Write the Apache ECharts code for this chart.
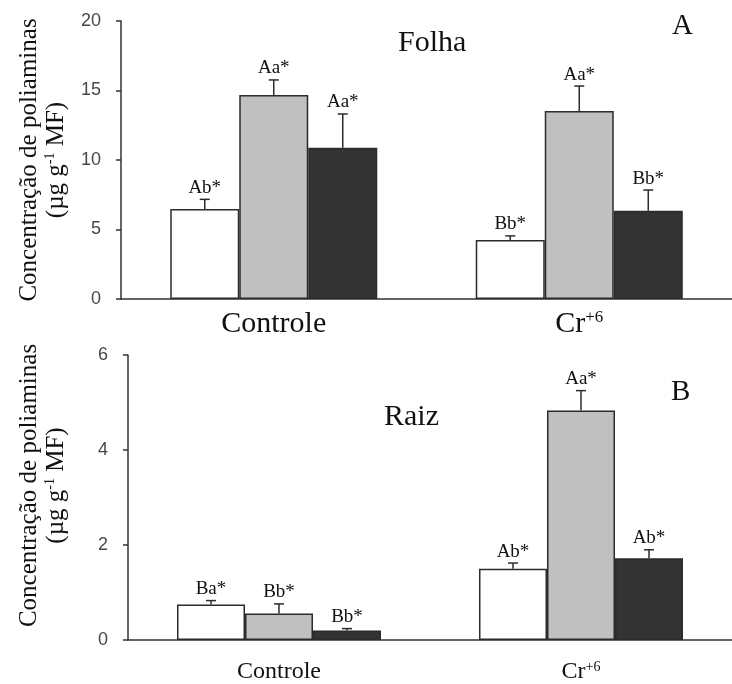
<!DOCTYPE html>
<html>
<head>
<meta charset="utf-8">
<script src="https://cdn.jsdelivr.net/npm/echarts@6/dist/echarts.min.js"></script>
<style>html,body{margin:0;padding:0;background:#fff;}#c{width:732px;height:684px;}</style>
</head>
<body>
<div id="c"></div>
<script>
// ---- data ----
var categories = ['Controle', 'Cr+6'];
var seriesNames = ['Tratamento 1', 'Tratamento 2', 'Tratamento 3'];

// Folha (A)
var folha1 = [6.47, 4.24];
var folha2 = [14.68, 13.52];
var folha3 = [10.89, 6.35];
var folha1Err = [0.70, 0.30];
var folha2Err = [1.08, 1.80];
var folha3Err = [2.42, 1.49];
var folha1Lab = ['Ab*', 'Bb*'];
var folha2Lab = ['Aa*', 'Aa*'];
var folha3Lab = ['Aa*', 'Bb*'];

// Raiz (B)
var raiz1 = [0.75, 1.50];
var raiz2 = [0.56, 4.83];
var raiz3 = [0.20, 1.72];
var raiz1Err = [0.08, 0.12];
var raiz2Err = [0.20, 0.42];
var raiz3Err = [0.04, 0.18];
var raiz1Lab = ['Ba*', 'Ab*'];
var raiz2Lab = ['Bb*', 'Aa*'];
var raiz3Lab = ['Bb*', 'Ab*'];

var folhaTicks = {min: 0, max: 20, interval: 5};
var raizTicks = {min: 0, max: 6, interval: 2};

// ---- styling ----
var SERIF = '"Liberation Serif", "Times New Roman", serif';
var SANS = '"Liberation Sans", Arial, sans-serif';
var fills = ['#ffffff', '#c0c0c0', '#333333'];
var edge = '#2b2b2b';

function catLabel(v) {
  if (v === 'Cr+6') return '{m|Cr}{s|+6}';
  return '{m|' + v + '}';
}

function buildBars(gridIdx, vals, barW) {
  return vals.map(function (arr, i) {
    return {
      type: 'bar', name: seriesNames[i],
      xAxisIndex: gridIdx, yAxisIndex: gridIdx,
      data: arr, barWidth: barW, barGap: '0%',
      itemStyle: {color: fills[i], borderColor: edge, borderWidth: 1.5},
      silent: true
    };
  });
}

function buildErr(gridIdx, vals, errs, labs, barW, fontSize) {
  return vals.map(function (arr, i) {
    var data = arr.map(function (v, k) { return [k, v, errs[i][k], labs[i][k]]; });
    return {
      type: 'custom',
      xAxisIndex: gridIdx, yAxisIndex: gridIdx,
      data: data, z: 5, silent: true,
      encode: {x: 0, y: 1},
      renderItem: function (params, api) {
        var c = api.value(0), v = api.value(1), e = api.value(2);
        var lab = labs[i][params.dataIndex];
        var base = api.coord([c, v]);
        var topP = api.coord([c, v + e]);
        var x = base[0] + (i - 1) * barW;
        var cap = 5;
        return {
          type: 'group',
          children: [
            {type: 'line', shape: {x1: x, y1: base[1], x2: x, y2: topP[1]},
             style: {stroke: edge, lineWidth: 1.5}},
            {type: 'line', shape: {x1: x - cap, y1: topP[1], x2: x + cap, y2: topP[1]},
             style: {stroke: edge, lineWidth: 1.5}},
            {type: 'text', x: x, y: topP[1] - 2,
             style: {text: lab, align: 'center', verticalAlign: 'bottom',
                     fontSize: fontSize, fontFamily: SERIF, fill: '#111'}}
          ]
        };
      }
    };
  });
}

var yName = '{t|Concentração de poliaminas}\n{t|(µg g}{s|-1}{t| MF)}';
function yNameStyle(shift) {
  return {
    fontFamily: SERIF, color: '#111', lineHeight: 27,
    padding: [0, 0, 0, shift],
    rich: {
      t: {fontSize: 25, fontFamily: SERIF, color: '#111', lineHeight: 27},
      s: {fontSize: 14, fontFamily: SERIF, color: '#111', verticalAlign: 'top', lineHeight: 27, padding: [0, 0, 8, 0]}
    }
  };
}

function yAxis(gridIdx, ticks, gap, shift) {
  return {
    type: 'value', gridIndex: gridIdx,
    min: ticks.min, max: ticks.max, interval: ticks.interval,
    name: yName, nameLocation: 'middle', nameRotate: 90, nameGap: gap,
    nameTextStyle: yNameStyle(shift),
    axisLine: {show: true, lineStyle: {color: '#333', width: 1.5}},
    axisTick: {show: true, length: 5, lineStyle: {color: '#333', width: 1.5}},
    axisLabel: {fontFamily: SANS, fontSize: 18, color: '#484848', margin: 20},
    splitLine: {show: false}
  };
}

function xAxis(gridIdx, fs, supFs, margin) {
  return {
    type: 'category', gridIndex: gridIdx, data: categories,
    axisLine: {show: true, lineStyle: {color: '#333', width: 1.5}},
    axisTick: {show: false},
    axisLabel: {
      margin: margin, formatter: catLabel,
      rich: {
        m: {fontSize: fs, fontFamily: SERIF, color: '#111', verticalAlign: 'bottom', lineHeight: fs},
        s: {fontSize: supFs, fontFamily: SERIF, color: '#111', verticalAlign: 'top', lineHeight: fs}
      }
    }
  };
}

var BW_TOP = 69, BW_BOT = 68;

var option = {
  animation: false,
  backgroundColor: '#ffffff',
  grid: [
    {left: 121, top: 21, right: -8, height: 278},
    {left: 128, top: 355, right: -4, height: 287}
  ],
  xAxis: [xAxis(0, 30, 17, 10), xAxis(1, 24, 14, 20)],
  yAxis: [yAxis(0, folhaTicks, 50, 0), yAxis(1, raizTicks, 58, 24)],
  graphic: [
    {type: 'text', left: 398, top: 28, style: {text: 'Folha', fontSize: 30, fontFamily: SERIF, fill: '#111'}},
    {type: 'text', left: 672, top: 12, style: {text: 'A', fontSize: 29, fontFamily: SERIF, fill: '#111'}},
    {type: 'text', left: 384, top: 402, style: {text: 'Raiz', fontSize: 30, fontFamily: SERIF, fill: '#111'}},
    {type: 'text', left: 671, top: 378, style: {text: 'B', fontSize: 29, fontFamily: SERIF, fill: '#111'}}
  ],
  series: [].concat(
    buildBars(0, [folha1, folha2, folha3], BW_TOP),
    buildErr(0, [folha1, folha2, folha3], [folha1Err, folha2Err, folha3Err], [folha1Lab, folha2Lab, folha3Lab], BW_TOP, 19),
    buildBars(1, [raiz1, raiz2, raiz3], BW_BOT),
    buildErr(1, [raiz1, raiz2, raiz3], [raiz1Err, raiz2Err, raiz3Err], [raiz1Lab, raiz2Lab, raiz3Lab], BW_BOT, 19)
  )
};

var chart = echarts.init(document.getElementById('c'), null, {renderer: 'canvas'});
chart.setOption(option);
</script>
</body>
</html>
